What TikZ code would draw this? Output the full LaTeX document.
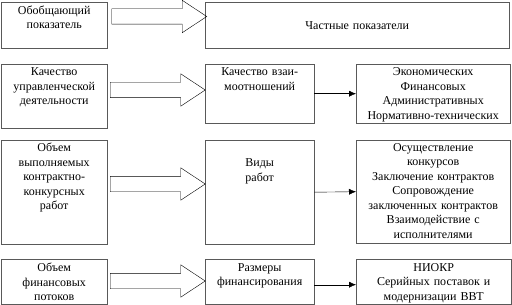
\documentclass[tikz,border=0pt]{standalone}
\usepackage{fontspec}
\setmainfont{Liberation Serif}
\usetikzlibrary{arrows.meta,positioning,shapes.arrows}

\begin{document}
\begin{tikzpicture}[
  x=1pt, y=-1pt,
  font=\fontsize{12}{14.5}\selectfont,
  block/.style={draw=black!65, anchor=north west, inner sep=0pt},
  boxtext/.style={align=center, text width=150pt, anchor=north, inner sep=1pt},
  bigarrow/.style={single arrow, draw, anchor=west, inner xsep=0pt, inner ysep=7.5pt, minimum height=95pt, single arrow head extend=8.5pt, single arrow tip angle=67},
  arrow/.style={-{Latex[length=7pt,width=6pt]}, thin}
]
\useasboundingbox (0,0) rectangle (512,305);

\node[block, minimum width=106pt, minimum height=46pt] (gen) at (1,2) {};
\node[block, minimum width=304pt, minimum height=46pt] (part) at (205,2) {};
\node[block, minimum width=106pt, minimum height=64pt] (qual) at (1,64) {};
\node[block, minimum width=109pt, minimum height=59pt] (rel) at (205,64) {};
\node[block, minimum width=154pt, minimum height=59pt] (relkinds) at (356,64) {};
\node[block, minimum width=106pt, minimum height=104pt] (volume) at (1,140) {};
\node[block, minimum width=109pt, minimum height=104pt] (works) at (205,140) {};
\node[block, minimum width=154pt, minimum height=103pt] (worklist) at (356,140) {};
\node[block, minimum width=106pt, minimum height=45pt] (flow) at (1,259) {};
\node[block, minimum width=109pt, minimum height=45pt] (fin) at (205,259) {};
\node[block, minimum width=155pt, minimum height=45pt] (finlist) at (356,259) {};

\node[boxtext, below=2.5pt of gen.north] (gentext) {Обобщающий\\показатель};
\node[boxtext, anchor=center] (parttext) at (part.center) {Частные показатели};
\node[boxtext, below=2.5pt of qual.north] (qualtext) {Качество\\управленческой\\деятельности};
\node[boxtext, below=2.5pt of rel.north] (reltext) {Качество взаи-\\моотношений};
\node[boxtext, below=2.5pt of relkinds.north] (relkindstext) {Экономических\\Финансовых\\Административных\\Нормативно-технических};
\node[boxtext, below=2pt of volume.north] (volumetext) {Объем\\выполняемых\\контрактно-\\конкурсных\\работ};
\node[boxtext, below=17.5pt of works.north] (workstext) {Виды\\работ};
\node[boxtext, below=2pt of worklist.north] (worklisttext) {Осуществление\\конкурсов\\Заключение контрактов\\Сопровождение\\заключенных контрактов\\Взаимодействие с\\исполнителями};
\node[boxtext, below=3pt of flow.north] (flowtext) {Объем\\финансовых\\потоков};
\node[boxtext, below=3pt of fin.north] (fintext) {Размеры\\финансирования};
\node[boxtext, below=3pt of finlist.north] (finlisttext) {НИОКР\\Серийных поставок и\\модернизации ВВТ};

\node[bigarrow] (genarrow) at (111.5,16.5) {};
\node[bigarrow] (qualarrow) at (110,90) {};
\node[bigarrow] (volumearrow) at (110,184) {};
\node[bigarrow] (flowarrow) at (110,281) {};

\draw[arrow] (rel.east) -- (relkinds.west);
\draw[arrow] (works.east) -- (worklist.west);
\draw[arrow] ([yshift=-3pt]fin.east) -- ([yshift=-3pt]finlist.west);
\end{tikzpicture}
\end{document}
